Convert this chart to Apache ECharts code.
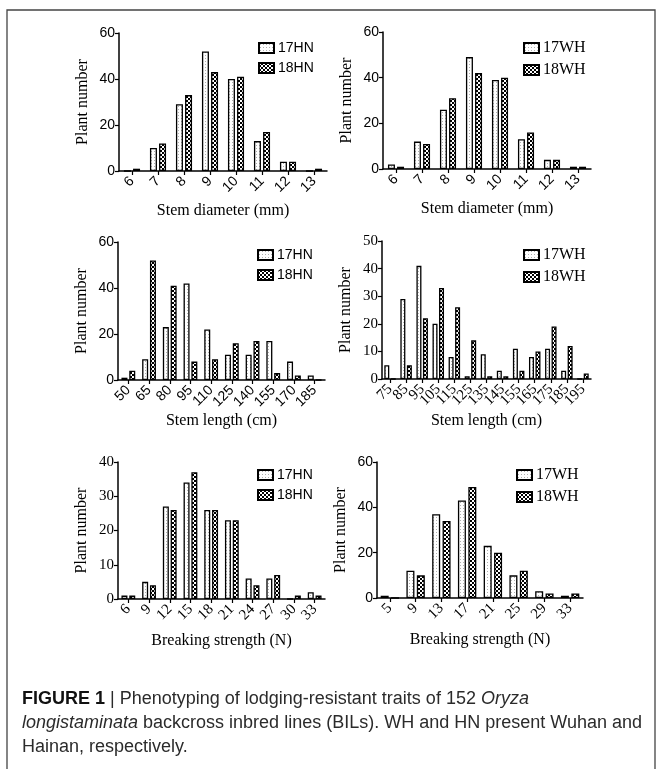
<!DOCTYPE html>
<html><head><meta charset="utf-8">
<script src="https://cdn.jsdelivr.net/npm/echarts@6/dist/echarts.min.js"></script>
<style>html,body{margin:0;padding:0;background:#fff}#c{width:660px;height:769px}</style>
</head><body><div id="c"></div>
<script>
// ---- data ----
const diamCats = ['6','7','8','9','10','11','12','13'];
const diam17HN = [0,10,29,52,40,13,4,0];
const diam18HN = [1,12,33,43,41,17,4,1];
const diam17WH = [2,12,26,49,39,13,4,1];
const diam18WH = [1,11,31,42,40,16,4,1];

const lenCatsHN = ['50','65','80','95','110','125','140','155','170','185'];
const len17HN = [1,9,23,42,22,11,11,17,8,2];
const len18HN = [4,52,41,8,9,16,17,3,2,0];

const lenCatsWH = ['75','85','95','105','115','125','135','145','155','165','175','185','195'];
const len17WH = [5,29,41,20,8,1,9,3,11,8,11,3,0];
const len18WH = [0,5,22,33,26,14,1,1,3,10,19,12,2];

const brkCatsHN = ['6','9','12','15','18','21','24','27','30','33'];
const brk17HN = [1,5,27,34,26,23,6,6,0,2];
const brk18HN = [1,4,26,37,26,23,4,7,1,1];

const brkCatsWH = ['5','9','13','17','21','25','29','33'];
const brk17WH = [1,12,37,43,23,10,3,1];
const brk18WH = [0,10,34,49,20,12,2,2];

const yTicks60 = [0,20,40,60];
const yTicks50 = [0,10,20,30,40,50];
const yTicks40 = [0,10,20,30,40];

// ---- patterns ----
function pat17(){
  const c=document.createElement('canvas'); c.width=3; c.height=3;
  const g=c.getContext('2d'); g.fillStyle='#fff'; g.fillRect(0,0,3,3);
  g.fillStyle='#b0b0b0'; g.fillRect(1,1,1,1); return c;
}
function pat18(){
  const c=document.createElement('canvas'); c.width=4; c.height=4;
  const g=c.getContext('2d'); g.fillStyle='#000'; g.fillRect(0,0,4,4);
  g.fillStyle='#fff'; g.fillRect(0,0,2,2); g.fillRect(2,2,2,2); return c;
}
const P17={image:pat17(),repeat:'repeat'};
const P18={image:pat18(),repeat:'repeat'};

const SANS='Liberation Sans, Arial, sans-serif';
const SERIF='Liberation Serif, Times New Roman, serif';

const panels = [
  {grid:{left:119,top:33,width:208,height:138}, cats:diamCats, a:diam17HN, b:diam18HN, na:'17HN', nb:'18HN',
   yt:yTicks60, yf:SANS, xf:SANS, xname:'Stem diameter (mm)', bw:7, lf:SANS, leg:{left:253,top:36}},
  {grid:{left:383,top:32,width:208,height:137}, cats:diamCats, a:diam17WH, b:diam18WH, na:'17WH', nb:'18WH',
   yt:yTicks60, yf:SANS, xf:SANS, xname:'Stem diameter (mm)', bw:7, lf:SERIF, leg:{left:518,top:35}},
  {grid:{left:118,top:242,width:207,height:138}, cats:lenCatsHN, a:len17HN, b:len18HN, na:'17HN', nb:'18HN',
   yt:yTicks60, yf:SANS, xf:SANS, xname:'Stem length (cm)', bw:6, lf:SANS, leg:{left:252,top:243}},
  {grid:{left:382,top:241,width:209,height:138}, cats:lenCatsWH, a:len17WH, b:len18WH, na:'17WH', nb:'18WH',
   yt:yTicks50, yf:SERIF, xf:SERIF, xname:'Stem length (cm)', bw:5, lf:SERIF, leg:{left:518,top:242}},
  {grid:{left:118,top:462,width:207,height:137}, cats:brkCatsHN, a:brk17HN, b:brk18HN, na:'17HN', nb:'18HN',
   yt:yTicks40, yf:SERIF, xf:SERIF, xname:'Breaking strength (N)', bw:6, lf:SANS, leg:{left:252,top:463}},
  {grid:{left:377,top:462,width:206,height:136}, cats:brkCatsWH, a:brk17WH, b:brk18WH, na:'17WH', nb:'18WH',
   yt:yTicks60, yf:SANS, xf:SERIF, xname:'Breaking strength (N)', bw:8, lf:SERIF, leg:{left:511,top:462}}
];

const axLine={lineStyle:{color:'#000',width:1.5}};
const option={animation:false,backgroundColor:'#fff',grid:[],xAxis:[],yAxis:[],series:[],legend:[],graphic:[]};
panels.forEach((p,i)=>{
  option.grid.push(p.grid);
  option.xAxis.push({type:'category',gridIndex:i,data:p.cats,
    axisLine:axLine,axisTick:{show:true,alignWithLabel:true,length:4,lineStyle:{color:'#000',width:1.2}},
    axisLabel:{rotate:45,interval:0,fontFamily:p.xf,fontSize:p.xf===SERIF?15:14,color:'#000',margin:8},
    name:p.xname,nameLocation:'middle',nameGap:p.xf===SERIF?34:32,
    nameTextStyle:{fontFamily:SERIF,fontSize:16,color:'#000'}});
  option.yAxis.push({type:'value',gridIndex:i,min:0,max:p.yt[p.yt.length-1],interval:p.yt[1]-p.yt[0],
    splitLine:{show:false},axisLine:{show:true,lineStyle:{color:'#000',width:1.5}},
    axisTick:{show:true,length:4,lineStyle:{color:'#000',width:1.2}},
    axisLabel:{fontFamily:p.yf,fontSize:p.yf===SERIF?15:14,color:'#000',margin:4},
    name:'Plant number',nameLocation:'middle',nameGap:28,
    nameTextStyle:{fontFamily:SERIF,fontSize:16,color:'#000'}});
  const st={borderColor:'#000',borderWidth:1.3};
  option.series.push({type:'bar',name:p.na,xAxisIndex:i,yAxisIndex:i,data:p.a,barWidth:p.bw,barGap:'30%',
    itemStyle:Object.assign({color:P17},st)});
  option.series.push({type:'bar',name:p.nb,xAxisIndex:i,yAxisIndex:i,data:p.b,barWidth:p.bw,barGap:'30%',
    itemStyle:Object.assign({color:P18},st)});
  option.legend.push({data:[p.na,p.nb],orient:'vertical',left:p.leg.left,top:p.leg.top,
    itemWidth:15,itemHeight:10,itemGap:6,icon:'rect',selectedMode:false,
    textStyle:{fontFamily:p.lf,fontSize:p.lf===SERIF?16:14,color:'#000',padding:[0,0,0,-1]}});
});

option.graphic.push({type:'rect',shape:{x:7,y:10,width:648,height:780},
  style:{fill:'none',stroke:'#444',lineWidth:1.3},silent:true});
option.graphic.push({type:'text',left:22,top:687,style:{
  text:'{b|FIGURE 1} | Phenotyping of lodging-resistant traits of 152 {i|Oryza}\n{i|longistaminata} backcross inbred lines (BILs). WH and HN present Wuhan and\nHainan, respectively.',
  font:'18px '+SANS,fill:'#2b2b2b',lineHeight:24,
  rich:{b:{fontWeight:'bold',fontFamily:SANS,fontSize:18,fill:'#111'},i:{fontStyle:'italic',fontFamily:SANS,fontSize:18,fill:'#2b2b2b'}}
}});

const chart=echarts.init(document.getElementById('c'),null,{renderer:'canvas'});
chart.setOption(option);
</script></body></html>
